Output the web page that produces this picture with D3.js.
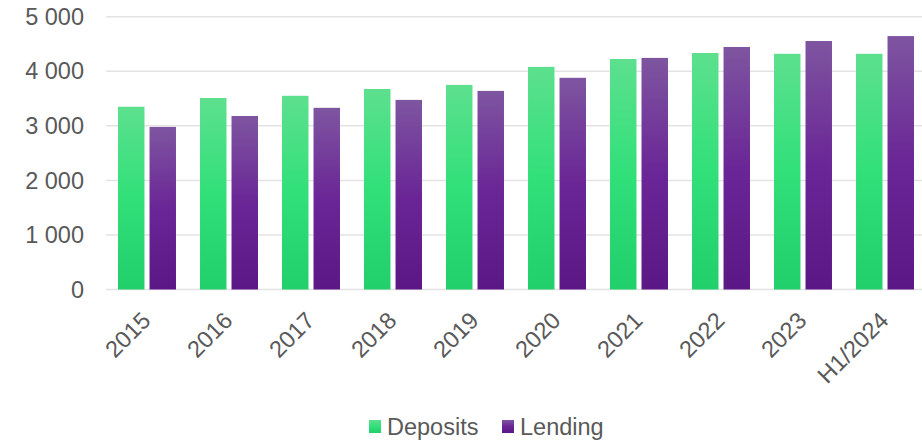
<!DOCTYPE html>
<html>
<head>
<meta charset="utf-8">
<script src="https://cdn.jsdelivr.net/npm/d3@7"></script>
<style>
  body { margin: 0; background: #fff; }
  text { font-family: "Liberation Sans", Arial, sans-serif; fill: #595959; }
</style>
</head>
<body>
<script>
// Chart data
var years = ["2015", "2016", "2017", "2018", "2019", "2020", "2021", "2022", "2023", "H1/2024"];
var deposits = [3350, 3510, 3550, 3675, 3750, 4080, 4225, 4335, 4320, 4320];
var lending = [2980, 3180, 3330, 3475, 3640, 3880, 4245, 4445, 4555, 4645];
var series = ["Deposits", "Lending"];
var yTicks = [0, 1000, 2000, 3000, 4000, 5000];

var width = 922, height = 441;
var svg = d3.select("body").append("svg")
  .attr("width", width)
  .attr("height", height);

// Gradients per bar (top lighter, bottom darker)
var defs = svg.append("defs");
var grads = {
  Deposits: [["0%", "#5de08e"], ["50%", "#31e079"], ["100%", "#21cf6b"]],
  Lending: [["0%", "#7e55a0"], ["50%", "#6a2696"], ["100%", "#5c1786"]]
};
series.forEach(function(s) {
  var g = defs.append("linearGradient")
    .attr("id", "grad-" + s)
    .attr("x1", 0).attr("y1", 0).attr("x2", 0).attr("y2", 1);
  grads[s].forEach(function(st) {
    g.append("stop").attr("offset", st[0]).attr("stop-color", st[1]);
  });
});

var x0 = d3.scaleBand()
  .domain(years)
  .range([106, 926])
  .paddingInner(0.293)
  .paddingOuter(0.1465);

var x1 = d3.scaleBand()
  .domain(series)
  .range([0, x0.bandwidth()])
  .paddingInner(0.16);

var y = d3.scaleLinear()
  .domain([0, 5000])
  .range([289.5, 16.7]);

var fmt = function(v) { return d3.format(",")(v).replace(/,/g, " "); };

// Gridlines
svg.append("g")
  .selectAll("line")
  .data(yTicks).enter()
  .append("line")
    .attr("x1", 106)
    .attr("x2", width)
    .attr("y1", function(d) { return y(d); })
    .attr("y2", function(d) { return y(d); })
    .attr("stroke", "#e3e3e3")
    .attr("stroke-width", 1.5);

// Y labels
svg.append("g")
  .selectAll("text")
  .data(yTicks).enter()
  .append("text")
    .attr("x", 84)
    .attr("y", function(d) { return y(d); })
    .attr("dy", "0.35em")
    .attr("text-anchor", "end")
    .style("font-size", "23.5px")
    .text(fmt);

// Bars
var rows = years.map(function(yr, i) {
  return { year: yr, values: [
    { key: "Deposits", value: deposits[i] },
    { key: "Lending", value: lending[i] }
  ] };
});

svg.append("g")
  .selectAll("g")
  .data(rows).enter()
  .append("g")
    .attr("transform", function(d) { return "translate(" + x0(d.year) + ",0)"; })
  .selectAll("rect")
  .data(function(d) { return d.values; }).enter()
  .append("rect")
    .attr("x", function(d) { return x1(d.key); })
    .attr("y", function(d) { return y(d.value); })
    .attr("width", x1.bandwidth())
    .attr("height", function(d) { return y(0) - y(d.value); })
    .attr("fill", function(d) { return "url(#grad-" + d.key + ")"; });

// X labels, rotated
svg.append("g")
  .selectAll("text")
  .data(years).enter()
  .append("text")
    .attr("transform", function(d) {
      var cx = x0(d) + x0.bandwidth() / 2 + 5;
      return "translate(" + cx + ",322) rotate(-45)";
    })
    .attr("text-anchor", "end")
    .style("font-size", "23.5px")
    .text(function(d) { return d; });

// Legend
var legend = svg.append("g");
var legendItems = [{ key: "Deposits", x: 369 }, { key: "Lending", x: 502 }];
legend.selectAll("rect")
  .data(legendItems).enter()
  .append("rect")
    .attr("x", function(d) { return d.x; })
    .attr("y", 420)
    .attr("width", 12)
    .attr("height", 13)
    .attr("fill", function(d) { return "url(#grad-" + d.key + ")"; });
legend.selectAll("text")
  .data(legendItems).enter()
  .append("text")
    .attr("x", function(d) { return d.x + 18; })
    .attr("y", 427)
    .attr("dy", "0.35em")
    .style("font-size", "23.5px")
    .text(function(d) { return d.key; });
</script>
</body>
</html>
